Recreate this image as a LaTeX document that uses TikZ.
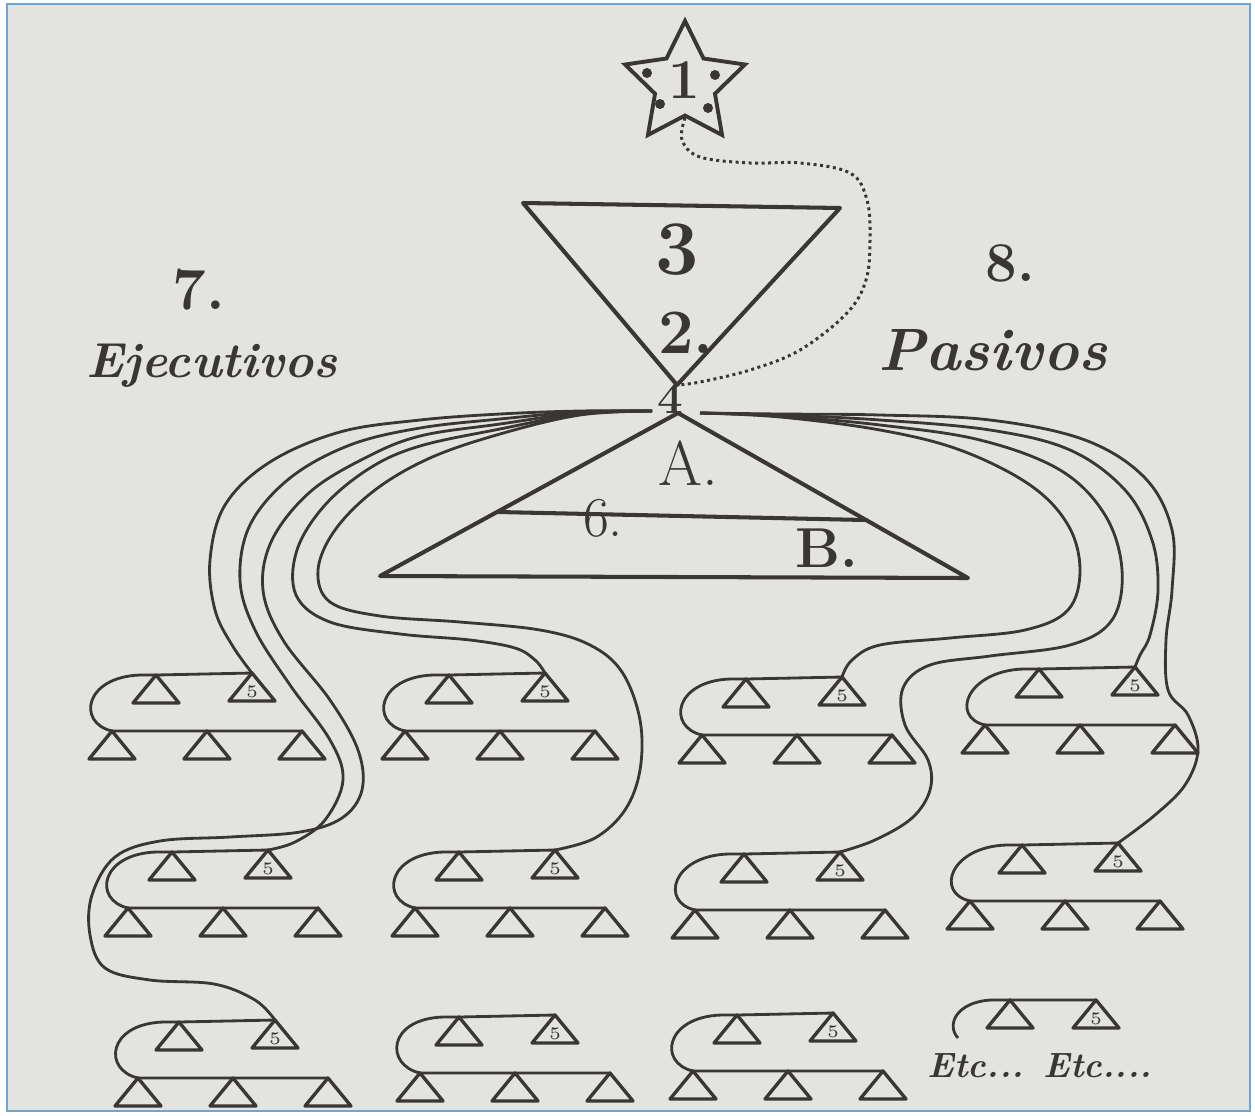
\documentclass[tikz,border=0pt]{standalone}
\usetikzlibrary{shapes.geometric}
\definecolor{tinta}{RGB}{58,54,50}
\definecolor{papel}{RGB}{227,227,224}
\definecolor{marco}{RGB}{110,165,215}
\tikzset{
    tri/.style={draw=tinta, line width=0.95pt, line join=round},
    hilo/.style={draw=tinta, line width=0.8pt},
    grande/.style={draw=tinta, line width=1.15pt, line join=round},
    punteado/.style={draw=tinta, line width=0.85pt, densely dotted},
    rotulo/.style={text=tinta, inner sep=0pt},
    cinco/.style={text=tinta, inner sep=0pt, font=\fontsize{5}{5}\selectfont},
}

\begin{document}
\begin{tikzpicture}[x=0.01cm, y=-0.01cm]
    \useasboundingbox (0,0) rectangle (1255,1115);
    \fill[white] (0,0) rectangle (1255,1115);
    \filldraw[fill=papel, draw=marco, line width=0.8pt] (7,4) rectangle (1250,1111);
    %%% Star and triangles
    \node[star, star points=5, star point ratio=2.0, minimum size=1.26cm, inner sep=0pt, draw=tinta, line width=1.1pt] (estrella) at (685,84) {};
    \node[rotulo, font=\bfseries\fontsize{16}{16}\selectfont] (uno) at (684,80) {1};
    \foreach \px/\py in {647/73, 715/75, 660/104, 708/108}
        \fill[tinta] (\px,\py) circle (5);
    \draw[grande] (523,203) -- (840,208) -- (677,385) -- cycle; % upper triangle
    \coordinate (v2) at (677,385);
    \node[rotulo, font=\bfseries\fontsize{22}{22}\selectfont] (tres) at (677,250) {3};
    \node[rotulo, font=\bfseries\fontsize{18}{18}\selectfont] (dos) at (686,333) {2.};
    \node[rotulo, font=\bfseries\fontsize{13}{13}\selectfont] (cuatro) at (670,398) {4};
    \draw[grande] (678,413) -- (968,578) -- (380,576) -- cycle; % lower triangle
    \draw[grande] (498,512) -- (865,520); % line 6
    \node[rotulo, font=\fontsize{18}{18}\selectfont] (letraA) at (688,463) {A.};
    \node[rotulo, font=\fontsize{16}{16}\selectfont] (seis) at (603,518) {6.};
    \node[rotulo, font=\bfseries\fontsize{16}{16}\selectfont] (letraB) at (827,548) {B.};
    \draw[punteado] plot[smooth, tension=0.6] coordinates {(estrella.south) (682,140) (700,157) (750,163) (800,163) (850,173) (867,200) (870,240) (866,280) (847,313) (800,350) (750,370) (700,382) (v2)};
    %%% Side titles
    \node[rotulo, font=\bfseries\fontsize{17}{17}\selectfont] (siete) at (199,290) {7.};
    \node[rotulo, font=\bfseries\itshape\fontsize{14}{17}\selectfont] (ejecutivos) at (212,366) {Ejecutivos};
    \node[rotulo, font=\bfseries\fontsize{16}{16}\selectfont] (ocho) at (1010,263) {8.};
    \node[rotulo, font=\bfseries\itshape\fontsize{17}{20}\selectfont] (pasivos) at (993,350) {Pasivos};
    %%% Groups of triangles
    \foreach \n/\x/\y/\sh in {11/252/673/0, 21/545/673/0, 31/842/677/0, 41/1135/667/-10,
                              12/268/850/0, 22/555/850/0, 32/840/852/-5, 42/1118/843/-8,
                              13/275/1020/3, 23/555/1015/5, 33/833/1013/0}{
        \coordinate (g\n) at (\x,\y);
        \draw[tri] (g\n) -- ++(-23,28) -- ++(46,0) -- cycle; % triangle 5
        \node[cinco] (c\n) at (\x,{\y+19}) {5};
        \draw[tri] ({\x-96},{\y+2}) -- ++(-23,28) -- ++(46,0) -- cycle;
        \foreach \dx in {-140,-45,50}
            \draw[tri] ({\x+\sh+\dx},{\y+58}) -- ++(-23,28) -- ++(46,0) -- cycle;
        \draw[hilo] (g\n) -- ({\x-96},{\y+2}) -- ({\x-112},{\y+2})
            .. controls ({\x-168},{\y+4}) and ({\x+\sh-175},{\y+50}) .. ({\x+\sh-140},{\y+58})
            -- ({\x+\sh-45},{\y+58}) -- ({\x+\sh+50},{\y+58});
    }
    % last group, cut short
    \coordinate (g43) at (1096,1000);
    \draw[tri] (g43) -- ++(-23,28) -- ++(46,0) -- cycle;
    \node[cinco] (c43) at (1096,1019) {5};
    \draw[tri] (1010,1000) -- ++(-23,28) -- ++(46,0) -- cycle;
    \draw[hilo] (g43) -- (1010,1000) -- (991,1000) .. controls (956,1002) and (946,1025) .. (958,1038);
    \node[rotulo, font=\bfseries\itshape\fontsize{10}{10}\selectfont] (etc) at (1040,1066) {Etc... Etc....};
    %%% Wires from 4
    \coordinate (c4l) at (652,411);
    \coordinate (c4r) at (700,413);
    \draw[hilo] plot[smooth, tension=0.6] coordinates {(c4l) (580,411) (500,414) (420,420) (340,432) (270,462) (225,505) (210,560) (215,610) (232,645) (g11)};
    \draw[hilo] plot[smooth, tension=0.6] coordinates {(c4l) (580,412) (500,419) (420,428) (350,445) (290,478) (250,525) (240,580) (255,630) (290,685) (330,740) (343,780) (325,820) (295,842) (g12)};
    \draw[hilo] plot[smooth, tension=0.6] coordinates {(c4l) (580,413) (500,424) (420,436) (365,458) (310,492) (272,540) (263,590) (283,640) (330,700) (358,750) (362,790) (342,818) (300,832) (230,837) (160,841) (115,857) (92,895) (90,935) (105,968) (150,980) (214,984) (255,1000) (g13)};
    \draw[hilo] plot[smooth, tension=0.6] coordinates {(c4l) (580,414) (500,429) (420,446) (370,468) (325,505) (297,550) (296,595) (330,622) (400,634) (470,640) (515,648) (535,660) (g21)};
    \draw[hilo] plot[smooth, tension=0.6] coordinates {(c4l) (580,415) (500,434) (430,458) (375,490) (335,530) (318,570) (330,602) (380,616) (460,622) (540,630) (590,645) (622,672) (640,720) (640,770) (625,810) (595,838) (g22)};
    \draw[hilo] plot[smooth, tension=0.6] coordinates {(c4r) (780,417) (880,430) (960,450) (1030,485) (1068,525) (1080,570) (1068,610) (1025,630) (950,638) (880,645) (852,660) (g31)};
    \draw[hilo] plot[smooth, tension=0.6] coordinates {(c4r) (780,416) (880,425) (980,440) (1060,470) (1105,515) (1122,570) (1112,620) (1070,645) (990,656) (930,665) (903,688) (905,725) (928,760) (930,790) (912,818) (875,840) (g32)};
    \draw[hilo] plot[smooth, tension=0.6] coordinates {(c4r) (780,415) (880,420) (990,430) (1070,450) (1125,490) (1152,540) (1158,590) (1150,635) (1140,655) (g41)};
    \draw[hilo] plot[smooth, tension=0.6] coordinates {(c4r) (780,414) (880,415) (990,420) (1085,440) (1145,478) (1172,530) (1172,590) (1166,640) (1168,690) (1188,715) (1198,750) (1185,785) (1155,815) (g42)};
\end{tikzpicture}
\end{document}
